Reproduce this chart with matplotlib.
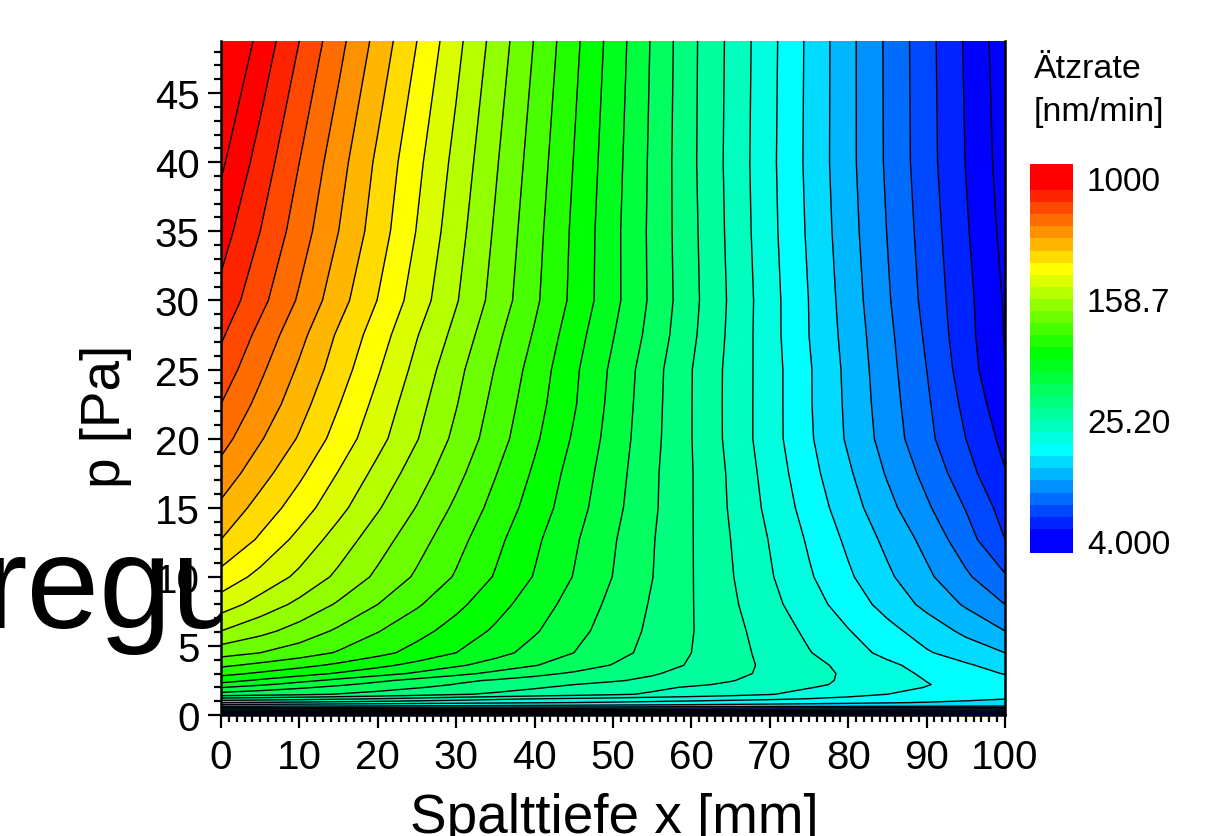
import numpy as np
import matplotlib
matplotlib.use('Agg')
import matplotlib.pyplot as plt

plt.rcParams['font.family'] = ['Liberation Sans', 'DejaVu Sans']

## 

x_mm = [0, 5, 10, 15, 20, 25, 30, 35, 40, 45, 50, 55, 60, 65, 70, 75, 80, 85, 90, 95, 100]
p_pa = [0, 0.15, 0.4, 0.65, 0.9, 1.15, 1.5, 2, 2.2, 2.5, 3, 3.6, 4.5, 6.08, 8, 10, 12.7, 15, 17.5,
        20, 22.5, 25, 27.5, 30, 35, 40, 48.8]

# etch rate, in contour steps above 4 nm/min
rate_steps = [
    [-0.9]*21,
    [0.8, 0.77, 0.75, 0.72, 0.7, 0.67, 0.65, 0.62, 0.6, 0.57, 0.55, 0.52, 0.5, 0.45, 0.4, 0.37, 0.35, 0.3, 0.25, 0.22, 0.2],
    [4.5, 4.45, 4.4, 4.35, 4.3, 4.25, 4.2, 4.15, 4.1, 4.05, 4.0, 3.95, 3.9, 3.85, 3.8, 3.75, 3.7, 3.65, 3.6, 3.55, 3.5],
    [7.2, 7.12, 7.05, 7.0, 6.95, 6.9, 6.85, 6.8, 6.75, 6.7, 6.65, 6.6, 6.55, 6.48, 6.4, 6.35, 6.3, 6.22, 6.15, 6.08, 6.0],
    [9.05, 8.92, 8.8, 8.67, 8.55, 8.42, 8.3, 8.2, 8.1, 8.0, 7.9, 7.8, 7.7, 7.58, 7.45, 7.33, 7.2, 7.08, 6.95, 6.8, 6.65],
    [10.55, 10.4, 10.25, 10.05, 9.85, 9.6, 9.35, 9.12, 8.9, 8.75, 8.6, 8.47, 8.35, 8.22, 8.1, 7.93, 7.75, 7.58, 7.4, 7.2, 7.0],
    [12.6, 12.4, 12.2, 11.95, 11.7, 11.4, 11.1, 10.85, 10.6, 10.37, 10.15, 9.88, 9.6, 9.33, 9.05, 8.68, 8.3, 8.0, 7.75, 7.52, 7.3],
    [14.05, 13.55, 13.15, 12.77, 12.4, 12.07, 11.75, 11.42, 11.1, 10.8, 10.5, 10.2, 9.9, 9.62, 9.35, 9.05, 8.7, 8.35, 7.97, 7.72, 7.45],
    [14.7, 14.15, 13.6, 13.15, 12.7, 12.35, 11.95, 11.6, 11.3, 11.0, 10.75, 10.45, 10.15, 9.85, 9.5, 9.2, 8.8, 8.45, 8.04, 7.7, 7.42],
    [15.4, 14.85, 14.3, 13.75, 13.2, 12.7, 12.2, 11.9, 11.65, 11.37, 11.1, 10.8, 10.45, 10.05, 9.65, 9.27, 8.85, 8.42, 7.98, 7.65, 7.35],
    [16.3, 15.85, 15.4, 14.9, 14.4, 13.85, 13.3, 12.75, 12.25, 11.87, 11.5, 11.1, 10.65, 10.25, 9.8, 9.33, 8.85, 8.35, 7.85, 7.4, 6.95],
    [17.2, 16.75, 16.3, 15.8, 15.25, 14.7, 14.15, 13.6, 13.05, 12.5, 11.95, 11.42, 10.9, 10.35, 9.8, 9.27, 8.75, 8.2, 7.65, 7.12, 6.6],
    [18.4, 18.0, 17.5, 16.9, 16.3, 15.65, 15.0, 14.33, 13.65, 13.0, 12.35, 11.68, 11.0, 10.35, 9.7, 9.05, 8.4, 7.75, 7.1, 6.55, 6.0],
    [20.0, 19.3, 18.6, 17.83, 17.05, 16.33, 15.6, 14.85, 14.1, 13.33, 12.55, 11.8, 11.05, 10.3, 9.55, 8.8, 8.05, 7.3, 6.55, 5.78, 5.0],
    [21.5, 20.6, 19.75, 18.87, 18.0, 17.12, 16.25, 15.37, 14.5, 13.62, 12.75, 11.9, 11.05, 10.18, 9.3, 8.42, 7.55, 6.65, 5.75, 4.88, 4.0],
    [22.65, 21.7, 20.77, 19.78, 18.8, 17.85, 16.9, 15.92, 14.94, 13.96, 12.98, 12.02, 11.05, 10.08, 9.1, 8.12, 7.15, 6.18, 5.2, 4.17, 3.1],
    [24.0, 22.85, 21.7, 20.55, 19.45, 18.4, 17.35, 16.27, 15.2, 14.15, 13.1, 12.07, 11.05, 10.0, 8.95, 7.87, 6.8, 5.75, 4.7, 3.42, 2.0],
    [24.8, 23.62, 22.5, 21.3, 20.1, 18.95, 17.8, 16.67, 15.55, 14.42, 13.3, 12.17, 11.05, 9.9, 8.75, 7.6, 6.45, 5.3, 4.15, 2.95, 1.6],
    [25.62, 24.4, 23.2, 21.95, 20.7, 19.5, 18.3, 17.05, 15.85, 14.6, 13.45, 12.2, 11.05, 9.85, 8.6, 7.35, 6.15, 4.9, 3.7, 2.4, 1.05],
    [26.4, 25.1, 23.9, 22.6, 21.33, 20.05, 18.75, 17.47, 16.17, 14.88, 13.59, 12.3, 11.02, 9.73, 8.44, 7.15, 5.86, 4.57, 3.28, 2.0, 0.7],
    [27.0, 25.7, 24.4, 23.05, 21.7, 20.35, 19.05, 17.7, 16.4, 15.1, 13.7, 12.35, 11.02, 9.72, 8.45, 7.1, 5.8, 4.45, 3.15, 1.75, 0.35],
    [27.6, 26.2, 24.85, 23.5, 22.1, 20.7, 19.3, 17.95, 16.6, 15.2, 13.8, 12.4, 11.03, 9.73, 8.45, 7.1, 5.75, 4.35, 3.0, 1.5, 0.0],
    [28.15, 26.7, 25.3, 23.85, 22.5, 21.05, 19.7, 18.25, 16.9, 15.45, 14.05, 12.65, 11.2, 9.8, 8.4, 7.0, 5.65, 4.25, 2.85, 1.35, -0.05],
    [28.7, 27.3, 25.86, 24.4, 22.97, 21.52, 20.08, 18.63, 17.19, 15.75, 14.3, 12.8, 11.3, 9.85, 8.4, 6.98, 5.55, 4.12, 2.7, 1.3, -0.1],
    [29.45, 28.0, 26.5, 25.0, 23.5, 21.95, 20.4, 18.87, 17.35, 15.82, 14.3, 12.77, 11.25, 9.77, 8.3, 6.85, 5.4, 3.97, 2.55, 1.12, -0.3],
    [30.18, 28.6, 27.0, 25.4, 23.8, 22.25, 20.7, 19.12, 17.55, 15.97, 14.4, 12.8, 11.2, 9.72, 8.25, 6.77, 5.3, 3.85, 2.4, 0.97, -0.45],
    [31.37, 29.7, 28.0, 26.33, 24.66, 23.0, 21.3, 19.62, 17.95, 16.27, 14.6, 12.9, 11.23, 9.77, 8.3, 6.8, 5.3, 3.83, 2.36, 0.88, -0.6],
]

band_colors = ['#0000ff', '#0000ff', '#0024ff', '#0048ff', '#006dff', '#0091ff', '#00b6ff', '#00dbff',
               '#00ffff', '#00ffdf', '#00ffbf', '#00ff9f', '#00ff7f', '#00ff5f', '#00ff3f', '#00ff1f',
               '#00ff00', '#24ff00', '#48ff00', '#6dff00', '#91ff00', '#b6ff00', '#dbff00', '#ffff00',
               '#ffdb00', '#ffb600', '#ff9100', '#ff6d00', '#ff4800', '#ff2400', '#ff0000', '#ff0000']

bar_ticks = [4.0, 25.2, 158.7, 1000.0]
bar_labels = ['4.000', '25.20', '158.7', '1000']

## 

W, H = 1227., 837.
fig = plt.figure(figsize=(W/100, H/100), dpi=100)
ax = fig.add_axes([221/W, 1-716/H, 784/W, 674/H])

step = np.log10(1000/4.)/30
log_rate = np.log10(4.) + np.array(rate_steps)*step
lines = np.log10(4.) + np.arange(31)*step
edges = np.r_[lines[0]-step, lines, lines[-1]+1.4*step]

cf = ax.contourf(x_mm, p_pa, log_rate, levels=edges, colors=band_colors)
ax.contour(x_mm, p_pa, log_rate, levels=lines, colors='k', linewidths=1.0)

ax.set_xlim(0, 100)
ax.set_ylim(0, 48.77)
ax.set_xticks(np.arange(0, 101, 10))
ax.set_xticks(np.arange(0, 101, 1), minor=True)
ax.set_yticks(np.arange(0, 46, 5))
ax.set_yticks(np.arange(0, 49, 1), minor=True)
ax.tick_params(which='major', length=9.5, width=1.6, labelsize=29)
ax.tick_params(which='minor', length=5, width=1.6)
ax.tick_params(axis='x', which='major', pad=7)
ax.tick_params(axis='y', which='major', pad=6)
ax.spines['top'].set_visible(False)
for s in ['left', 'bottom', 'right']:
    ax.spines[s].set_linewidth(1.8)

fig.text(614/W, 1-833/H, 'Spalttiefe x [mm]', fontsize=39.5, ha='center', va='baseline')
fig.text(106/W, 1-416/H, 'p [Pa]', fontsize=39.5, rotation=90, ha='center', va='center')

# stray title behind the plot
fig.text(-17/W, 1-628/H, 'regu', fontsize=94, ha='left', va='baseline', zorder=-1)

cax = fig.add_axes([1030/W, 1-554/H, 43/W, 389/H])
cbar = fig.colorbar(cf, cax=cax, spacing='proportional', ticks=np.log10(bar_ticks))
cbar.ax.set_yticklabels(bar_labels)
cbar.ax.tick_params(length=0, labelsize=24, pad=10)
cbar.ax.minorticks_off()
cbar.outline.set_visible(False)
cbar.ax.set_ylim(lines[0]-step, lines[-1]+1.15*step)

fig.text(1034/W, 1-69/H, '\u00c4tzrate', fontsize=24.5, ha='left', va='center')
fig.text(1034/W, 1-113/H, '[nm/min]', fontsize=24.5, ha='left', va='center')

fig.savefig('out.png', dpi=100)
